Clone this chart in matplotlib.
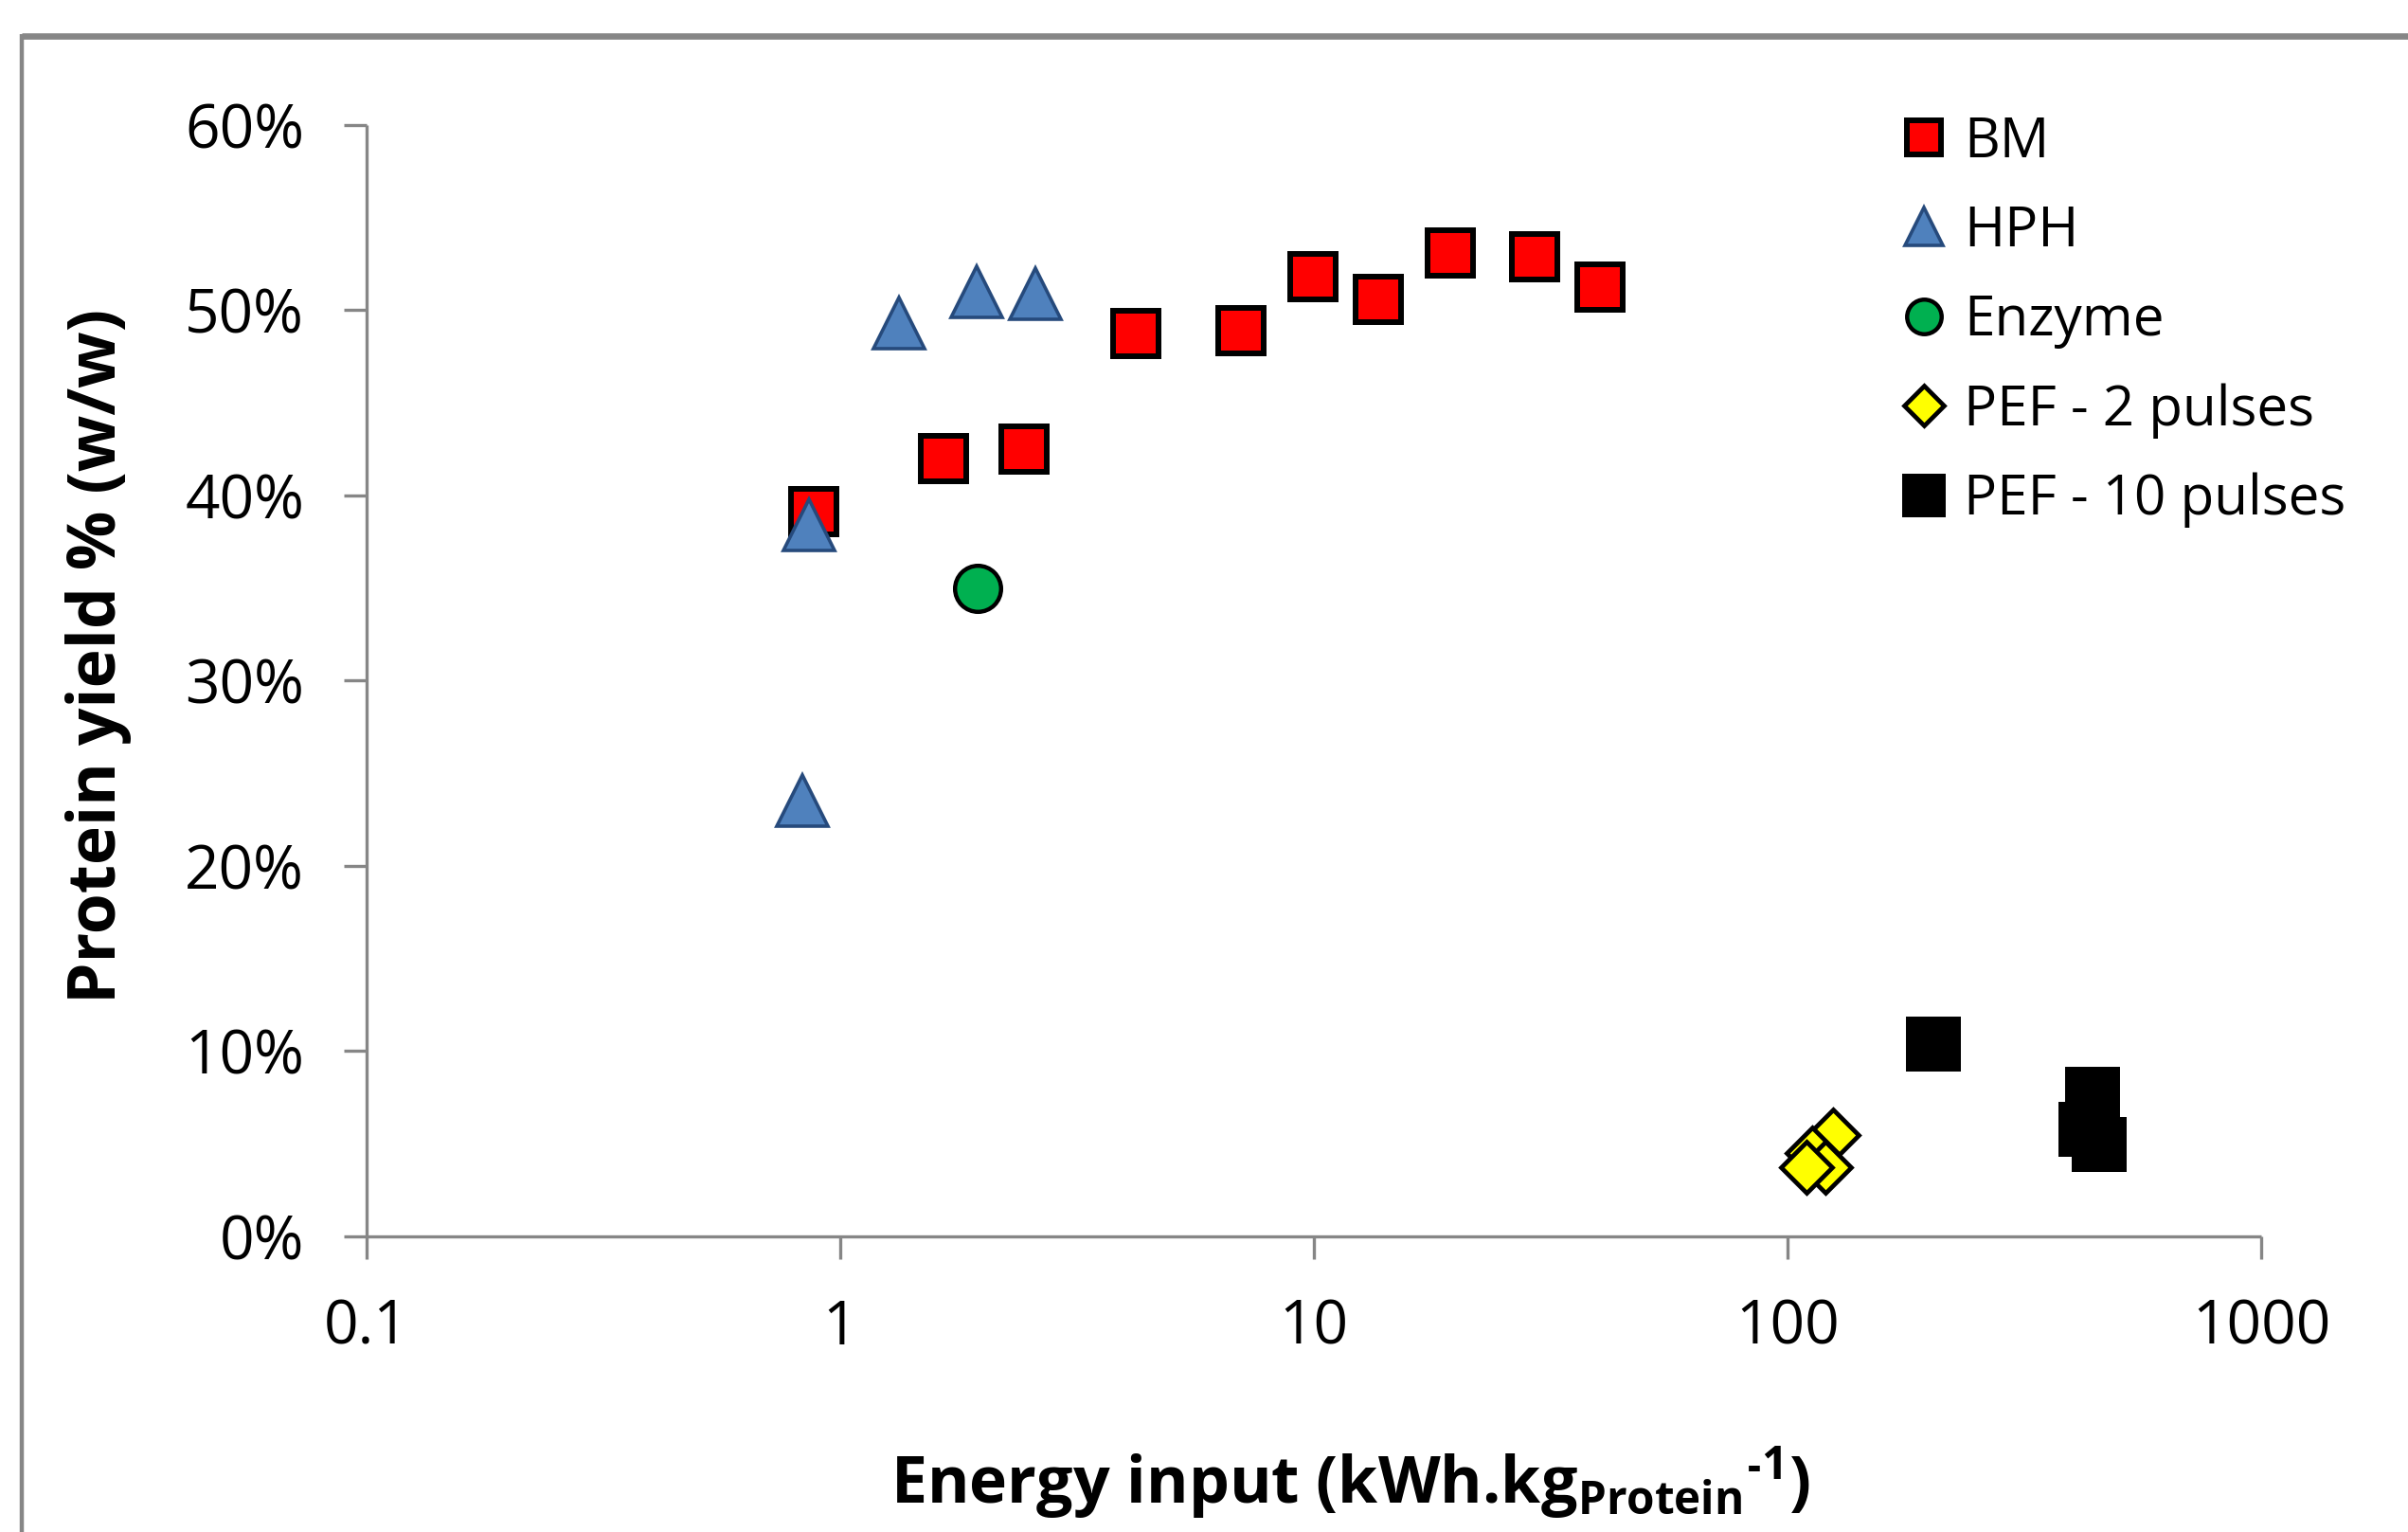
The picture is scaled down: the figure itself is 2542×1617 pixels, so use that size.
import matplotlib
matplotlib.use("Agg")
import matplotlib.pyplot as plt
from matplotlib.lines import Line2D
from matplotlib.ticker import FixedLocator, FuncFormatter, NullLocator

plt.rcParams['font.family'] = ['Open Sans', 'DejaVu Sans']
plt.rcParams['mathtext.fontset'] = 'custom'
plt.rcParams['mathtext.rm'] = 'Open Sans'
plt.rcParams['mathtext.bf'] = 'Open Sans:bold'

# ---- data (x: kWh/kg protein, y: protein yield %) ----
bm_x = [0.88, 1.65, 2.44, 4.20, 7.02, 9.97, 13.7, 19.4, 29.2, 40.1]
bm_y = [39.1, 42.0, 42.5, 48.75, 48.9, 51.8, 50.6, 53.1, 52.9, 51.25]

hph_x = [0.83, 0.86, 1.33, 1.94, 2.58]
hph_y = [23.5, 38.4, 49.3, 51.0, 50.9]

enz_x = [1.95]
enz_y = [35.0]

pef2_x = [124.7, 112.9, 120.1, 109.5]
pef2_y = [5.46, 4.5, 3.75, 3.75]

pef10_x = [203.5, 439.9, 426.6, 455.0]
pef10_y = [10.37, 7.67, 5.79, 4.96]

xticks = [0.1, 1, 10, 100, 1000]
xtick_labels = ['0.1', '1', '10', '100', '1000']
yticks = [0, 10, 20, 30, 40, 50, 60]

W, H = 2542, 1617
DPI = 100
fig = plt.figure(figsize=(W / DPI, H / DPI), dpi=DPI)
fig.patch.set_facecolor('white')

ax = fig.add_axes([387 / W, 1 - 1305 / H, 2000 / W, (1305 - 131.7) / H])

axis_col = '#868686'

ax.plot(bm_x, bm_y, ls='none', marker='s', ms=34.6, mfc='#FF0000', mec='black', mew=4.3,
        label='BM', zorder=3)
ax.plot(hph_x, hph_y, ls='none', marker='^', ms=39, mfc='#4F81BD', mec='#264A7C', mew=2.6,
        label='HPH', zorder=4)
ax.plot(enz_x, enz_y, ls='none', marker='o', ms=35, mfc='#00B050', mec='black', mew=3.2,
        label='Enzyme', zorder=3)
ax.plot(pef2_x, pef2_y, ls='none', marker='D', ms=28, mfc='#FFFF00', mec='black', mew=3.4,
        label='PEF - 2 pulses', zorder=3)
ax.plot(pef10_x, pef10_y, ls='none', marker='s', ms=38, mfc='black', mec='black', mew=4.3,
        label='PEF - 10 pulses', zorder=3)

ax.set_xscale('log')
ax.set_xlim(0.1, 1000)
ax.set_ylim(0, 60)
ax.xaxis.set_major_locator(FixedLocator(xticks))
ax.xaxis.set_minor_locator(NullLocator())
ax.set_xticklabels(xtick_labels)
ax.yaxis.set_major_locator(FixedLocator(yticks))
ax.yaxis.set_major_formatter(FuncFormatter(lambda v, p: f'{int(v)}%'))

for s in ['top', 'right']:
    ax.spines[s].set_visible(False)
for s in ['left', 'bottom']:
    ax.spines[s].set_color(axis_col)
    ax.spines[s].set_linewidth(2.4)
    ax.spines[s].set_capstyle('butt')

ax.tick_params(axis='both', which='major', direction='out', length=17.5, width=2.4,
               color=axis_col, labelsize=46, labelcolor='black')
ax.tick_params(axis='x', pad=29)
ax.tick_params(axis='y', pad=30)

ax.set_xlabel('Energy input (kWh.kg$_{\\mathbf{Protein}}$$^{\\mathbf{\u20101}}$)',
              fontsize=49, fontweight='bold')
ax.set_ylabel('Protein yield % (w/w)', fontsize=50, fontweight='bold')
ax.xaxis.label.set_va('center')
ax.yaxis.label.set_va('center')
ax.xaxis.set_label_coords((1425 - 387) / 2000, (1305 - 1565) / 1173.3)
ax.yaxis.set_label_coords((104 - 387) / 2000, (1305 - 692) / 1173.3)

leg = ax.legend(loc='upper left', bbox_to_anchor=(2002 / W, 1 - 121 / H),
                bbox_transform=fig.transFigure, frameon=False, fontsize=42,
                markerscale=0.75, handlelength=1.0, handletextpad=0.22,
                labelspacing=0.615, borderpad=0.0, borderaxespad=0.0)

# outer gray frame of the chart area (extends beyond the image on right/bottom)
fig.add_artist(Line2D([23 / W, 1.01], [1 - 38.5 / H, 1 - 38.5 / H], transform=fig.transFigure,
                      color=axis_col, lw=4.8, solid_capstyle='butt'))
fig.add_artist(Line2D([23 / W, 23 / W], [1 - 36 / H, -0.01], transform=fig.transFigure,
                      color=axis_col, lw=3.2, solid_capstyle='butt'))

fig.savefig('out.png', dpi=DPI, facecolor='white')
